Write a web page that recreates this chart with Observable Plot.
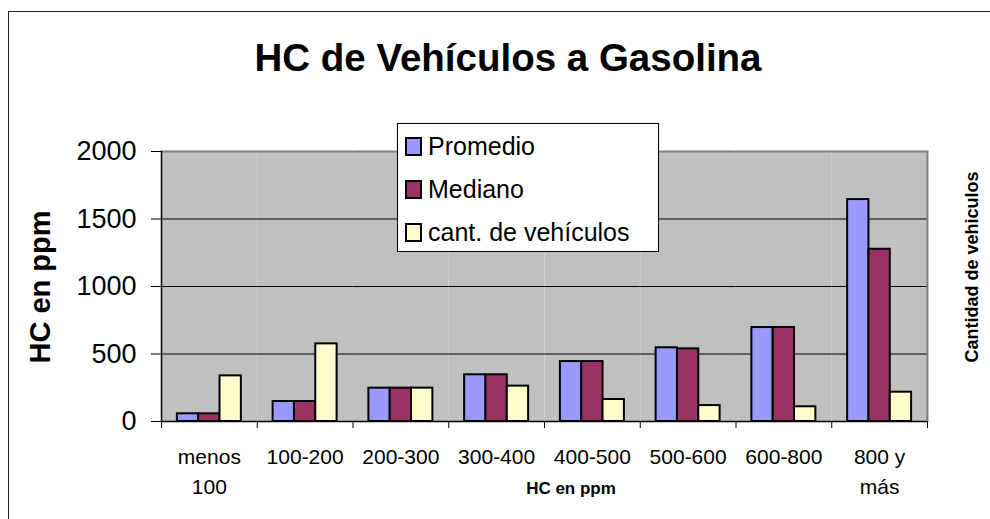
<!DOCTYPE html>
<html>
<head>
<meta charset="utf-8">
<script src="https://cdn.jsdelivr.net/npm/d3@7"></script>
<script src="https://cdn.jsdelivr.net/npm/@observablehq/plot@0.6"></script>
<style>
  html, body { margin: 0; padding: 0; background: #fff; }
  #wrap { position: relative; width: 990px; height: 519px; overflow: hidden;
          font-family: "Liberation Sans", Arial, sans-serif; color: #000; background: #fff; }
  #wrap svg { position: absolute; left: 0; top: 0; }
  #border { position: absolute; left: 8px; top: 11px; width: 1000px; height: 600px;
            border-left: 1px solid #222; border-top: 1px solid #222; }
  #title { position: absolute; left: 508px; top: 39px; transform: translateX(-50%);
           white-space: nowrap; font-weight: bold; font-size: 38.5px; line-height: 38px; }
  #ytitle { position: absolute; left: 40px; top: 287px; transform: translate(-50%, -50%) rotate(-90deg);
            white-space: nowrap; font-weight: bold; font-size: 29px; line-height: 29px; }
  #rtitle { position: absolute; left: 972px; top: 267px; transform: translate(-50%, -50%) rotate(-90deg);
            white-space: nowrap; font-weight: bold; font-size: 18px; line-height: 18px; }
  #xtitle { position: absolute; left: 571px; top: 480px; transform: translateX(-50%);
            white-space: nowrap; font-weight: bold; font-size: 17px; line-height: 17px; }
  #legend { position: absolute; left: 397px; top: 123px; width: 262px; height: 129px; box-sizing: border-box;
            background: #fff; border: 1px solid #000; padding-top: 1px; }
  .row { display: flex; align-items: center; height: 43px; font-size: 25px; white-space: nowrap; }
  .sw { width: 17px; height: 19px; box-sizing: border-box; border: 2px solid #000; margin-left: 7px; margin-right: 6px; }
</style>
</head>
<body>
<div id="wrap"></div>
<script>
// ---- data ----
const categories = ["menos\n100", "100-200", "200-300", "300-400", "400-500", "500-600", "600-800", "800 y\nmás"];
const series = ["Promedio", "Mediano", "cant. de vehículos"];
const promedio = [57, 148, 247, 346, 444, 546, 696, 1644];
const mediano  = [57, 148, 247, 346, 444, 538, 696, 1276];
const cantidad = [338, 575, 247, 262, 163, 118, 109, 217];
const yTicks = [0, 500, 1000, 1500, 2000];
const gridTicks = [500, 1000, 1500];
const colors = ["#9999FF", "#993366", "#FFFFCC"];
const titleText = "HC de Vehículos a Gasolina";
const yTitle = "HC en ppm";
const xTitle = "HC en ppm";
const rightTitle = "Cantidad de vehiculos";

// ---- layout ----
const W = 990, H = 519, mT = 151, mB = 98, mL = 161, mR = 63;
const plotH = H - mT - mB;
const values = [promedio, mediano, cantidad];
const table = categories.flatMap((c, i) => series.map((s, k) => ({cat: c, serie: s, value: values[k][i]})));
const first = categories[0], last = categories[categories.length - 1];

const chart = Plot.plot({
  width: W, height: H,
  marginTop: mT, marginBottom: mB, marginLeft: mL, marginRight: mR,
  style: {fontFamily: '"Liberation Sans", Arial, sans-serif', background: "transparent", color: "#000", overflow: "visible"},
  fx: {domain: categories, padding: 0, label: null, round: false},
  x: {domain: series, paddingInner: 0, paddingOuter: 0.745, axis: null, round: false},
  y: {domain: [0, 2000], label: null},
  color: {domain: series, range: colors},
  marks: [
    Plot.frame({fill: "#C0C0C0"}),
    Plot.gridY(gridTicks, {stroke: "#000", strokeOpacity: 1, strokeWidth: 1}),
    Plot.ruleY([2000], {stroke: "#808080", strokeWidth: 2}),
    Plot.frame({anchor: "right", stroke: "#808080", strokeWidth: 2, fx: () => last}),
    Plot.barY(table, {fx: "cat", x: "serie", y: "value", fill: "serie", stroke: "#000", strokeWidth: 2}),
    Plot.ruleY([0], {stroke: "#000", strokeWidth: 1.5}),
    Plot.frame({anchor: "left", stroke: "#000", strokeWidth: 1.5, fx: () => first}),
    Plot.frame({anchor: "left", stroke: "#000", insetTop: plotH, insetBottom: -6}),
    Plot.frame({anchor: "right", stroke: "#000", insetTop: plotH, insetBottom: -6, fx: () => last}),
    Plot.axisY(yTicks, {tickSize: 10, tickPadding: 15, fontSize: 27, label: null, tickFormat: d => String(d)}),
    Plot.axisFx({anchor: "bottom", tickSize: 0, tickPadding: 22, fontSize: 21, lineHeight: 1.4, label: null})
  ]
});

const wrap = document.getElementById("wrap");
wrap.appendChild(chart);

const border = document.createElement("div"); border.id = "border"; wrap.appendChild(border);
const t = document.createElement("div"); t.id = "title"; t.textContent = titleText; wrap.appendChild(t);
const yt = document.createElement("div"); yt.id = "ytitle"; yt.textContent = yTitle; wrap.appendChild(yt);
const rt = document.createElement("div"); rt.id = "rtitle"; rt.textContent = rightTitle; wrap.appendChild(rt);
const xt = document.createElement("div"); xt.id = "xtitle"; xt.textContent = xTitle; wrap.appendChild(xt);

const legend = document.createElement("div"); legend.id = "legend";
series.forEach((s, k) => {
  const row = document.createElement("div"); row.className = "row";
  const sw = document.createElement("div"); sw.className = "sw"; sw.style.background = colors[k];
  const lab = document.createElement("span"); lab.textContent = s;
  row.appendChild(sw); row.appendChild(lab); legend.appendChild(row);
});
wrap.appendChild(legend);
</script>
</body>
</html>
